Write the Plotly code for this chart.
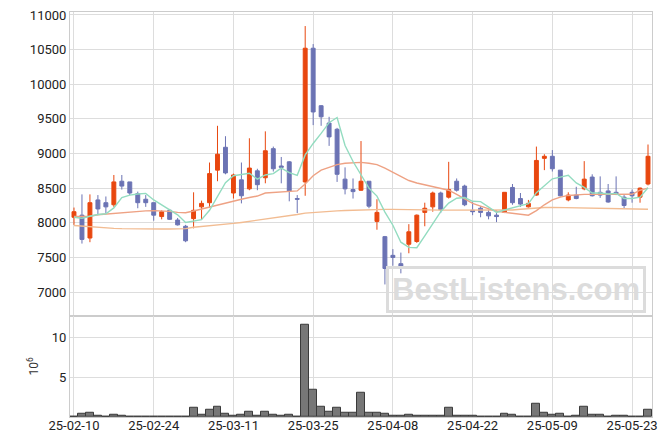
import plotly.graph_objects as go
from plotly.subplots import make_subplots

dates = [
    "25-02-10", "25-02-11", "25-02-12", "25-02-13", "25-02-14",
    "25-02-17", "25-02-18", "25-02-19", "25-02-20", "25-02-21",
    "25-02-24", "25-02-25", "25-02-26", "25-02-27", "25-02-28",
    "25-03-04", "25-03-05", "25-03-06", "25-03-07",
    "25-03-10", "25-03-11", "25-03-12", "25-03-13", "25-03-14",
    "25-03-17", "25-03-18", "25-03-19", "25-03-20", "25-03-21",
    "25-03-24", "25-03-25", "25-03-26", "25-03-27", "25-03-28",
    "25-03-31", "25-04-01", "25-04-02", "25-04-03", "25-04-04",
    "25-04-07", "25-04-08", "25-04-09", "25-04-10", "25-04-11",
    "25-04-14", "25-04-15", "25-04-16", "25-04-17", "25-04-18",
    "25-04-21", "25-04-22", "25-04-23", "25-04-24", "25-04-25",
    "25-04-28", "25-04-29", "25-04-30", "25-05-02",
    "25-05-07", "25-05-08", "25-05-09",
    "25-05-12", "25-05-13", "25-05-14", "25-05-15", "25-05-16",
    "25-05-19", "25-05-20", "25-05-21", "25-05-22", "25-05-23",
    "25-05-26", "25-05-27",
]

opens = [8080, 8110, 7780, 8330, 8290, 8260, 8600, 8590, 8420, 8340,
         8290, 8090, 8180, 8040, 7950, 8060, 8230, 8290, 8760, 9090,
         8430, 8620, 8490, 8750, 8650, 9070, 8820, 8880, 8350, 8590,
         10520, 9690, 9440, 9350, 8630, 8480, 8470, 8600, 8020, 7800,
         7530, 7410, 7690, 7730, 8150, 8230, 8430, 8370, 8600, 8530,
         8180, 8210, 8150, 8110, 8150, 8510, 8350, 8230, 8400, 8930,
         8960, 8760, 8330, 8400, 8490, 8660, 8440, 8460, 8440, 8370,
         8440, 8370, 8560]
highs = [8220, 8410, 8410, 8400, 8380, 8690, 8690, 8590, 8450, 8400,
         8290, 8180, 8200, 8070, 7970, 8440, 8320, 8870, 9400, 9250,
         8710, 8870, 9220, 8780, 9320, 9100, 8950, 8890, 8400, 10840,
         10580, 9700, 9530, 9370, 8800, 8640, 9180, 8600, 8340, 7810,
         7620, 7570, 7980, 8120, 8290, 8450, 8450, 8880, 8640, 8550,
         8310, 8240, 8190, 8180, 8440, 8560, 8430, 8330, 9100, 8990,
         9050, 8760, 8440, 8520, 8890, 8700, 8670, 8560, 8670, 8400,
         8480, 8510, 9130]
lows = [7970, 7700, 7720, 8110, 8140, 8230, 8480, 8400, 8210, 8230,
        8030, 8050, 8040, 7960, 7720, 7920, 8050, 8220, 8600, 8700,
        8350, 8280, 8470, 8470, 8570, 8740, 8570, 8310, 8140, 8390,
        9410, 9400, 9110, 8590, 8410, 8350, 8460, 8210, 7900, 7110,
        7380, 7270, 7560, 7710, 7950, 8160, 8140, 8350, 8450, 8240,
        8110, 8080, 8050, 8010, 8140, 8260, 8230, 8220, 8390, 8760,
        8740, 8380, 8310, 8340, 8470, 8380, 8360, 8290, 8400, 8210,
        8290, 8290, 8540]
closes = [8160, 7760, 8290, 8200, 8230, 8590, 8530, 8430, 8290, 8290,
          8110, 8160, 8050, 7970, 7740, 8180, 8280, 8710, 8990, 8720,
          8690, 8390, 8790, 8550, 9040, 8780, 8800, 8460, 8340, 10520,
          9600, 9530, 9240, 8700, 8490, 8450, 8600, 8240, 8150, 7340,
          7500, 7370, 7870, 8110, 8210, 8430, 8190, 8480, 8470, 8260,
          8160, 8150, 8100, 8090, 8440, 8290, 8270, 8280, 8900, 8960,
          8780, 8390, 8400, 8350, 8630, 8390, 8400, 8300, 8420, 8250,
          8390, 8500, 8960]

ma5 = [8080, 8065, 8095, 8120, 8130, 8215, 8365, 8400, 8415, 8425,
       8330, 8255, 8180, 8115, 8005, 8020, 8045, 8180, 8380, 8580,
       8680, 8700, 8715, 8630, 8690, 8710, 8790, 8725, 8685, 8980,
       9145, 9290, 9445, 9520, 9115, 8885, 8700, 8500, 8385, 8155,
       7965, 7720, 7645, 7640, 7810, 7995, 8160, 8285, 8355, 8365,
       8310, 8305, 8225, 8150, 8185, 8215, 8235, 8275, 8435, 8540,
       8635, 8660, 8685, 8575, 8510, 8430, 8430, 8415, 8425, 8350,
       8350, 8370, 8505]
ma20 = [8090, 8090, 8095, 8115, 8125, 8135, 8150, 8158, 8165, 8172,
        8176, 8175, 8165, 8150, 8145, 8170, 8200, 8230, 8260, 8290,
        8314, 8340, 8365, 8386, 8430, 8440, 8450, 8455, 8460, 8560,
        8680, 8760, 8800, 8840, 8860, 8870, 8872, 8860, 8840, 8790,
        8730, 8670, 8610, 8575, 8550, 8520, 8500, 8470, 8410, 8340,
        8280, 8240, 8200, 8165, 8150, 8136, 8120, 8110, 8175, 8260,
        8330, 8370, 8395, 8405, 8410, 8410, 8410, 8410, 8412, 8412,
        8412, 8470, 8500]
ma60 = [7960, 7950, 7940, 7932, 7926, 7920, 7916, 7913, 7911, 7910,
        7910, 7910, 7911, 7913, 7916, 7935, 7945, 7952, 7965, 7978,
        7991, 8005, 8020, 8040, 8053, 8065, 8080, 8100, 8120, 8140,
        8150, 8158, 8165, 8172, 8178, 8183, 8186, 8190, 8192, 8194,
        8193, 8190, 8186, 8183, 8183, 8183, 8183, 8183, 8183, 8183,
        8183, 8183, 8183, 8183, 8183, 8185, 8195, 8205, 8215, 8220,
        8222, 8220, 8218, 8216, 8213, 8210, 8205, 8200, 8197, 8195,
        8194, 8194, 8195]

volume_m = [0.08, 0.46, 0.59, 0.21, 0.08, 0.34, 0.21, 0.08, 0.08, 0.08,
            0.08, 0.0, 0.08, 0.0, 0.08, 1.22, 0.34, 0.97, 1.34, 0.46,
            0.21, 0.34, 0.71, 0.21, 0.71, 0.34, 0.21, 0.34, 0.08, 11.55,
            3.36, 1.34, 0.71, 1.22, 0.59, 0.59, 2.98, 0.59, 0.59, 0.46,
            0.21, 0.21, 0.34, 0.21, 0.21, 0.21, 0.21, 1.22, 0.21, 0.21,
            0.21, 0.08, 0.08, 0.08, 0.46, 0.34, 0.08, 0.08, 1.72, 0.59,
            0.34, 0.46, 0.08, 0.21, 1.34, 0.34, 0.34, 0.08, 0.21, 0.21,
            0.08, 0.08, 0.97]

tick_dates = ["25-02-10", "25-02-24", "25-03-11", "25-03-25",
              "25-04-08", "25-04-22", "25-05-09", "25-05-23"]
price_ticks = [7000, 7500, 8000, 8500, 9000, 9500, 10000, 10500, 11000]
volume_ticks = [5, 10]

UP = "#E8470F"
DOWN = "#6B73B4"
GRID = "#DDDDDD"
FRAME = "#CCCCCC"
FONT = "Roboto"

fig = make_subplots(rows=2, cols=1, shared_xaxes=True,
                    row_heights=[0.75, 0.25], vertical_spacing=0)

fig.add_trace(go.Candlestick(
    x=dates, open=opens, high=highs, low=lows, close=closes,
    increasing=dict(line=dict(color=UP, width=1), fillcolor=UP),
    decreasing=dict(line=dict(color=DOWN, width=1), fillcolor=DOWN),
    whiskerwidth=0, hoverinfo="skip"), row=1, col=1)

fig.add_trace(go.Scatter(x=dates, y=ma60, mode="lines",
                         line=dict(color="#F2BC92", width=1.4)), row=1, col=1)
fig.add_trace(go.Scatter(x=dates, y=ma20, mode="lines",
                         line=dict(color="#EEA284", width=1.4)), row=1, col=1)
fig.add_trace(go.Scatter(x=dates, y=ma5, mode="lines",
                         line=dict(color="#93DCC0", width=1.4)), row=1, col=1)

fig.add_trace(go.Bar(x=dates, y=volume_m,
                     marker=dict(color="#777777", line=dict(color="#3A3A3A", width=1))),
              row=2, col=1)

# page body has an 8px margin, so the figure is sized to fit inside the window
fig.update_layout(
    width=663, height=438,
    margin=dict(l=62, r=19, t=4, b=29, autoexpand=False),
    paper_bgcolor="white", plot_bgcolor="white",
    showlegend=False, bargap=0,
    font=dict(family=FONT, size=13, color="#222222"),
    xaxis_rangeslider_visible=False,
)

for ax in ("xaxis", "xaxis2"):
    fig.layout[ax].update(
        type="category", range=[-0.5, len(dates) - 0.5],
        tickmode="array", tickvals=tick_dates, ticktext=tick_dates,
        showgrid=True, gridcolor=GRID, gridwidth=1,
        showline=True, linecolor=FRAME, mirror=True, ticks="",
        tickangle=0, automargin=False, ticklabeloverflow="allow",
    )
fig.layout.xaxis.showticklabels = False
fig.layout.xaxis.rangeslider.visible = False
fig.layout.xaxis2.ticklabelstandoff = -4

fig.update_yaxes(
    range=[6658, 11043], tickmode="array", tickvals=price_ticks,
    tickformat="d", showgrid=True, gridcolor=GRID, zeroline=False,
    showline=True, linecolor=FRAME, mirror=True, ticks="", automargin=False,
    ticklabeloverflow="allow",
    row=1, col=1)
fig.update_yaxes(
    range=[0, 12.68], tickmode="array", tickvals=volume_ticks,
    showgrid=True, gridcolor=GRID, zeroline=False,
    showline=True, linecolor=FRAME, mirror=True, ticks="", automargin=False,
    ticklabeloverflow="allow",
    title=dict(text="10<sup>6</sup>", font=dict(size=12, color="#333333"), standoff=10),
    row=2, col=1)

fig.add_annotation(
    text="<b>BestListens.com</b>", xref="paper", yref="paper",
    x=0.766, y=0.316, xanchor="center", yanchor="middle", showarrow=False,
    font=dict(family="Liberation Sans, Arial", size=31, color="#DCDCDC"),
    bordercolor="#DCDCDC", borderwidth=3, borderpad=3,
)

fig.write_html("out.html")
